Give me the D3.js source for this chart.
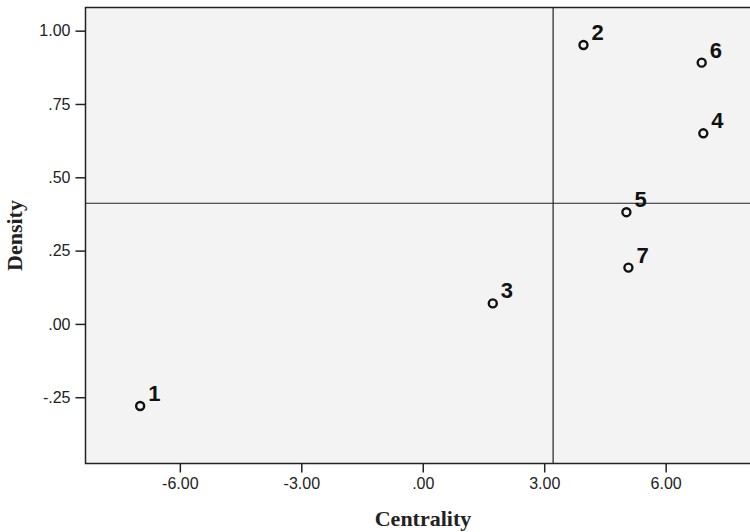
<!DOCTYPE html>
<html>
<head>
<meta charset="utf-8">
<script src="https://cdn.jsdelivr.net/npm/d3@7"></script>
<style>
  html, body { margin: 0; padding: 0; background: #ffffff; }
  svg { display: block; }
</style>
</head>
<body>
<script>
// ---- data ----
const labels = ["1", "2", "3", "4", "5", "6", "7"];
const centrality = [-6.98, 3.97, 1.73, 6.93, 5.03, 6.89, 5.08];
const density = [-0.28, 0.951, 0.07, 0.65, 0.381, 0.891, 0.192];
const xTicks = [-6, -3, 0, 3, 6];
const yTicks = [-0.25, 0, 0.25, 0.5, 0.75, 1.0];
const refCentrality = 3.22;
const refDensity = 0.4115;

const W = 750, H = 532;
const mLeft = 85.5, mRight = 760, mTop = 7.5, mBottom = 463.5;

const svg = d3.select("body").append("svg").attr("width", W).attr("height", H);

const x = d3.scaleLinear().domain([-8.33, 8.33]).range([mLeft, mRight]);
const y = d3.scaleLinear().domain([-0.476, 1.079]).range([mBottom, mTop]);

const fmt = v => {
  let s = v.toFixed(2);
  return s.replace(/^(-?)0\./, "$1.");
};

// plot background
svg.append("rect")
  .attr("x", mLeft).attr("y", mTop)
  .attr("width", mRight - mLeft).attr("height", mBottom - mTop)
  .attr("fill", "#f3f3f3");

// reference lines
svg.append("line")
  .attr("x1", mLeft).attr("x2", mRight)
  .attr("y1", y(refDensity)).attr("y2", y(refDensity))
  .attr("stroke", "#222").attr("stroke-width", 1.2);
svg.append("line")
  .attr("x1", x(refCentrality)).attr("x2", x(refCentrality))
  .attr("y1", mTop).attr("y2", mBottom)
  .attr("stroke", "#222").attr("stroke-width", 1.2);

// frame
svg.append("rect")
  .attr("x", mLeft).attr("y", mTop)
  .attr("width", mRight - mLeft).attr("height", mBottom - mTop)
  .attr("fill", "none").attr("stroke", "#222").attr("stroke-width", 1.5);

// axes
const xAxis = d3.axisBottom(x).tickValues(xTicks).tickFormat(fmt).tickSize(9).tickPadding(5);
const gx = svg.append("g").attr("transform", `translate(0,${mBottom})`).call(xAxis);
gx.select(".domain").remove();
gx.selectAll(".tick line").attr("stroke", "#222").attr("stroke-width", 1.5);
gx.selectAll(".tick text").attr("fill", "#222")
  .attr("font-family", "Arial, 'Liberation Sans', sans-serif").attr("font-size", 16);

const yAxis = d3.axisLeft(y).tickValues(yTicks).tickFormat(fmt).tickSize(10).tickPadding(5);
const gy = svg.append("g").attr("transform", `translate(${mLeft},0)`).call(yAxis);
gy.select(".domain").remove();
gy.selectAll(".tick line").attr("stroke", "#222").attr("stroke-width", 1.5);
gy.selectAll(".tick text").attr("fill", "#222")
  .attr("font-family", "Arial, 'Liberation Sans', sans-serif").attr("font-size", 16);

// axis titles
svg.append("text")
  .attr("x", 423).attr("y", 526)
  .attr("text-anchor", "middle")
  .attr("font-family", "'Times New Roman', 'Liberation Serif', serif")
  .attr("font-weight", "bold").attr("font-size", 22).attr("fill", "#222")
  .text("Centrality");
svg.append("text")
  .attr("transform", `translate(22,${(mTop + mBottom) / 2}) rotate(-90)`)
  .attr("text-anchor", "middle")
  .attr("font-family", "'Times New Roman', 'Liberation Serif', serif")
  .attr("font-weight", "bold").attr("font-size", 22).attr("fill", "#222")
  .text("Density");

// points
const pts = labels.map((l, i) => ({ label: l, cx: centrality[i], cy: density[i] }));
const g = svg.append("g");
g.selectAll("circle").data(pts).join("circle")
  .attr("cx", d => x(d.cx)).attr("cy", d => y(d.cy))
  .attr("r", 4)
  .attr("fill", "none").attr("stroke", "#111").attr("stroke-width", 2.4);
g.selectAll("text").data(pts).join("text")
  .attr("x", d => x(d.cx) + 8).attr("y", d => y(d.cy) - 5)
  .attr("font-family", "Arial, 'Liberation Sans', sans-serif")
  .attr("font-weight", "bold").attr("font-size", 22).attr("fill", "#111")
  .text(d => d.label);
</script>
</body>
</html>
